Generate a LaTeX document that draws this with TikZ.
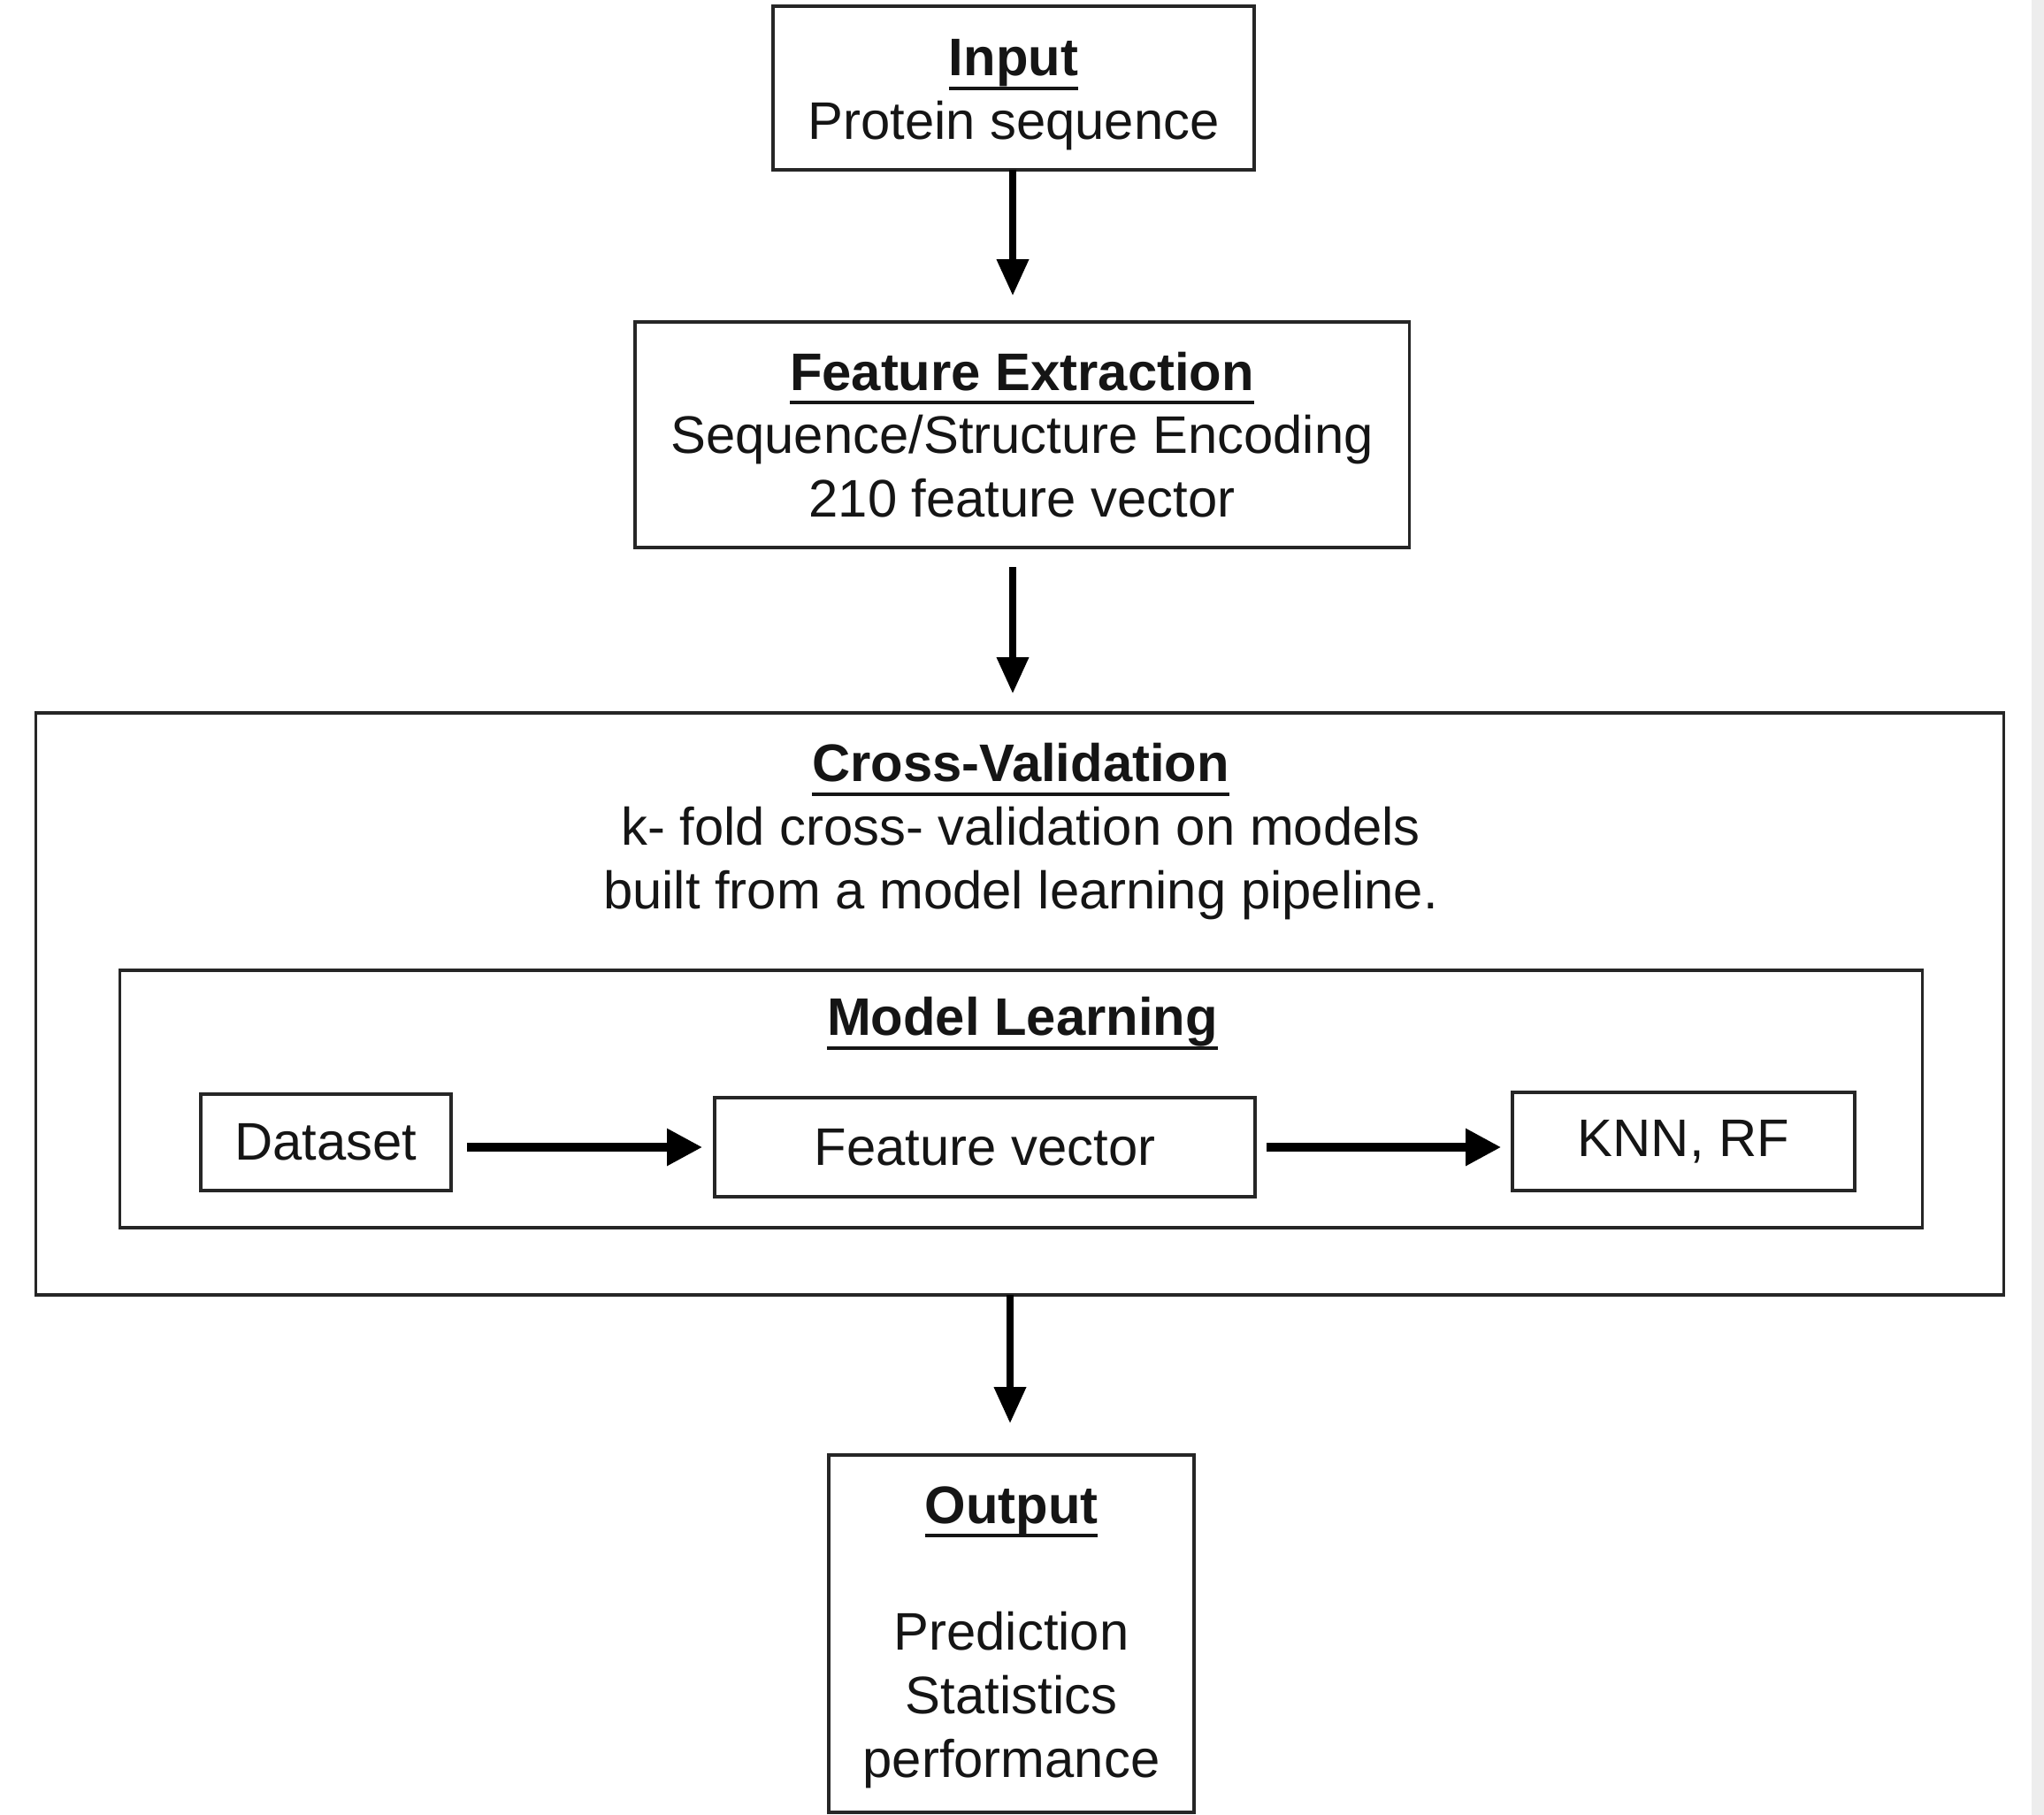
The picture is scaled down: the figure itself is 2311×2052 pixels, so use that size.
\documentclass[tikz,border=0pt]{standalone}
\usepackage{fontspec}
\setmainfont{Liberation Sans}
\usetikzlibrary{arrows.meta}
\newsavebox\hdbox
\newcommand{\hd}[1]{\sbox\hdbox{\bfseries #1}\rlap{\rule[-4.6pt]{\wd\hdbox}{1.2pt}}\usebox\hdbox}
\definecolor{ink}{HTML}{151515}
\definecolor{edge}{HTML}{262626}
\begin{document}
\begin{tikzpicture}[x=0.01cm,y=-0.01cm,
  txt/.style={font=\fontsize{17}{20.4}\selectfont, text=ink, align=center, inner sep=0pt},
  box/.style={txt, draw=edge, line width=1pt, rectangle},
  varrow/.style={draw=black, line width=2pt, -{Triangle[width=0.35cm,length=0.41cm]}},
  harrow/.style={draw=black, line width=2.6pt, -{Triangle[width=0.40cm,length=0.40cm]}}]
% canvas
\fill[white] (0,0) rectangle (2311,2052);
\fill[black!7] (2297,0) rectangle (2311,2052);
% boxes
\node[box, minimum width=5.44cm, minimum height=1.85cm] (input) at (1146,99.5) {};
\node[txt] (inputt) at (1146,107.5) {\hd{Input}\\Protein sequence};
\node[box, minimum width=8.75cm, minimum height=2.55cm] (fe) at (1155.5,491.5)
  {\hd{Feature Extraction}\\Sequence/Structure Encoding\\210 feature vector};
\node[box, minimum width=22.24cm, minimum height=6.58cm] (cv) at (1153,1135) {};
\node[txt] (cvt) at (1154,940)
  {\hd{Cross-Validation}\\k- fold cross- validation on models\\built from a model learning pipeline.};
\node[box, minimum width=20.37cm, minimum height=2.91cm] (ml) at (1154.5,1242.5) {};
\node[txt] (mlt) at (1156,1157) {\hd{Model Learning}};
\node[box, minimum width=2.83cm, minimum height=1.09cm] (ds) at (368.5,1291.5) {Dataset};
\node[box, minimum width=6.11cm, minimum height=1.12cm] (fv) at (1113.5,1297) {Feature vector};
\node[box, minimum width=3.87cm, minimum height=1.11cm] (knn) at (1903.5,1290.5) {KNN, RF};
\node[box, minimum width=4.13cm, minimum height=4.04cm] (out) at (1143.5,1847) {};
\node[txt] (outt) at (1143.5,1851)
  {\hd{Output}\\[20.4pt]Prediction\\Statistics\\performance};
% connectors
\coordinate (a1) at (1145,192);
\coordinate (a2) at (1145,619);
\coordinate (a3) at (1142,1464);
\draw[varrow, shorten >=0.28cm] (a1) -- (a1 |- fe.north);
\draw[varrow, shorten <=0.22cm, shorten >=0.20cm] (a2) -- (a2 |- cv.north);
\draw[varrow, shorten >=0.34cm] (a3) -- (a3 |- out.north);
\draw[harrow, shorten <=0.16cm, shorten >=0.12cm] (ds.east |- fv.west) -- (fv.west);
\draw[harrow, shorten <=0.11cm, shorten >=0.11cm] (fv.east) -- (fv.east -| knn.west);
\end{tikzpicture}
\end{document}
